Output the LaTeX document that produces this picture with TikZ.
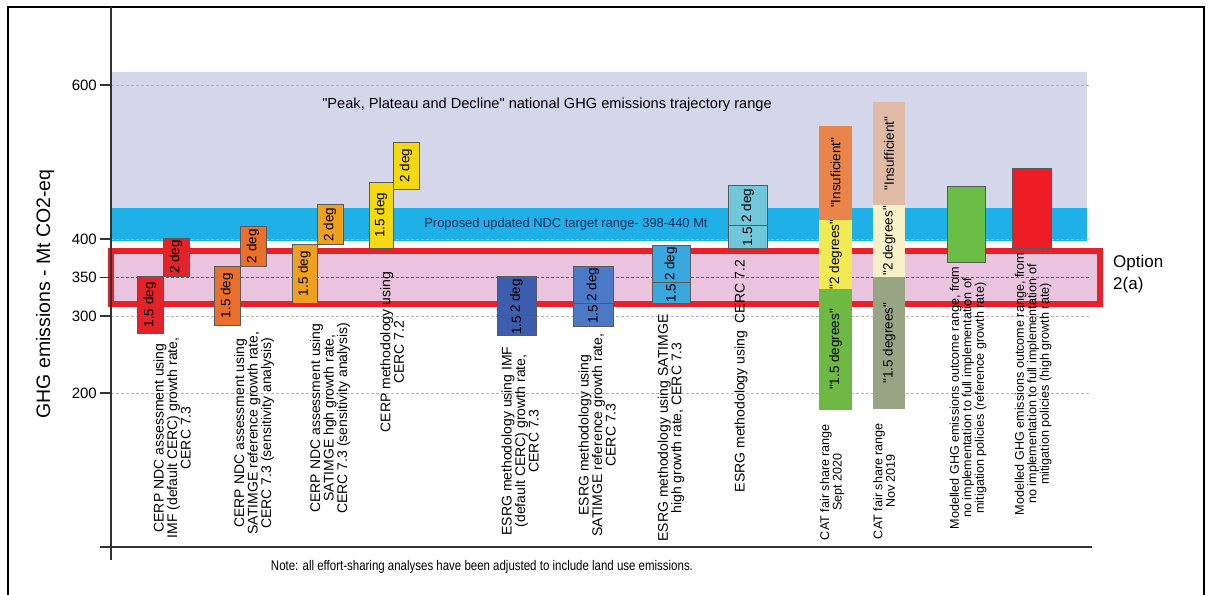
\documentclass[tikz,border=0pt]{standalone}
\usepackage{fontspec}
\setmainfont{Liberation Sans}[Ligatures=TeXOff]
\usetikzlibrary{positioning}
\definecolor{peakband}{HTML}{D4D6EA}
\definecolor{ndcband}{HTML}{1EB0E6}
\definecolor{optband}{HTML}{EAC4DE}
\definecolor{optline}{HTML}{E82128}
\definecolor{cerpred}{HTML}{E3232A}
\definecolor{cerporange}{HTML}{E8702B}
\definecolor{cerplight}{HTML}{F0A020}
\definecolor{cerpyellow}{HTML}{F4D812}
\definecolor{esrgdark}{HTML}{3D5DAE}
\definecolor{esrgmid}{HTML}{4B79C6}
\definecolor{esrglight}{HTML}{3BA7DF}
\definecolor{esrgcyan}{HTML}{72C8DB}
\definecolor{catinsufa}{HTML}{E9854B}
\definecolor{cattwoa}{HTML}{F2EA55}
\definecolor{catonea}{HTML}{6EB844}
\definecolor{catinsufb}{HTML}{DFBBA6}
\definecolor{cattwob}{HTML}{F6F1C6}
\definecolor{catoneb}{HTML}{97A585}
\definecolor{modgreen}{HTML}{6ABD45}
\definecolor{modred}{HTML}{EE1D25}
\definecolor{ndctext}{HTML}{1B2A5C}

\begin{document}
\begin{tikzpicture}[x=1pt, y=0.77pt,
	bar/.style={draw=black!65, line width=0.8pt},
	deg/.style={rotate=90, inner sep=0pt, text=black, font=\fontsize{13.5}{13.5}\selectfont},
	lbl/.style={rotate=90, align=center, inner sep=0pt, font=\fontsize{14}{13.5}\selectfont},
	small/.style={rotate=90, align=center, inner sep=0pt, font=\fontsize{12.6}{12.5}\selectfont},
	grid/.style={gray!60, dash pattern=on 3pt off 2pt, line width=0.8pt},
	tick/.style={left, inner sep=2pt, font=\fontsize{15}{15}\selectfont}]

\useasboundingbox (0,-61.04) rectangle (1210,710.39);
\draw[line width=1.6pt] (8,-80) -- (8,701.3) -- (1204,701.3) -- (1204,-80);

\fill[peakband] (111,440) rectangle (1087,617);
\fill[ndcband] (111,398) rectangle (1087,440);
\fill[optband] (111,316) rectangle (1100,384);

\foreach \v in {600,400,300,200}
	\draw[grid] (111,\v) -- (1090,\v);
\draw[grid, violet!45!gray] (111,350) -- (1090,350);

\draw[optline, line width=6pt] (111,316) rectangle (1100,384);

\draw[black!80, line width=1.3pt] (111,-17) -- (111,701.3);
\draw[black!80, line width=1.3pt] (100,0) -- (1092,0);
\foreach \v in {600,400,350,300,200} {
	\draw[black!80, line width=1.2pt] (100,\v) -- (111,\v);
	\node[tick] (t\v) at (99,\v) {\v};
}
\node[rotate=90, font=\fontsize{19.5}{20}\selectfont] (ytitle) at (45,328.6) {GHG emissions - Mt CO2-eq};

\node[font=\fontsize{14.6}{14.6}\selectfont] (peak) at (547,574) {"Peak, Plateau and Decline" national GHG emissions trajectory range};
\node[font=\fontsize{12.9}{12.9}\selectfont, text=ndctext] (ndc) at (566,419.5) {Proposed updated NDC target range- 398-440 Mt};
\node[right, align=left, inner sep=0pt, font=\fontsize{17}{22}\selectfont] (opt) at (1113,354.5) {Option\\2(a)};

\draw[bar, fill=cerpred] (137,277) rectangle (163,352) node[midway, deg] (ra) {1.5 deg};
\draw[bar, fill=cerpred] (163,352) rectangle (189,401) node[midway, deg] (rb) {2 deg};
\draw[bar, fill=cerporange] (214,288) rectangle (240,365) node[midway, deg] (oa) {1.5 deg};
\draw[bar, fill=cerporange] (240,365) rectangle (266,416) node[midway, deg] (ob) {2 deg};
\draw[bar, fill=cerplight] (292,317) rectangle (317,393) node[midway, deg] (la) {1.5 deg};
\draw[bar, fill=cerplight] (317,393) rectangle (343,445) node[midway, deg] (lb) {2 deg};
\draw[bar, fill=cerpyellow] (369,388) rectangle (393,474) node[midway, deg] (ya) {1.5 deg};
\draw[bar, fill=cerpyellow] (393,465) rectangle (419,525) node[midway, deg] (yb) {2 deg};

\draw[bar, fill=esrgdark] (497,275) rectangle (536,301) node[midway, deg] (da) {1.5};
\draw[bar, fill=esrgdark] (497,301) rectangle (536,351) node[midway, deg] (db) {2 deg};
\draw[bar, fill=esrgmid] (573,287) rectangle (613,317) node[midway, deg] (ma) {1.5};
\draw[bar, fill=esrgmid] (573,317) rectangle (613,364) node[midway, deg] (mb) {2 deg};
\draw[bar, fill=esrglight] (652,317) rectangle (690,343) node[midway, deg] (ha) {1.5};
\draw[bar, fill=esrglight] (652,343) rectangle (690,392) node[midway, deg] (hb) {2 deg};
\draw[bar, fill=esrgcyan] (728,388) rectangle (767,418) node[midway, deg] (ca) {1.5};
\draw[bar, fill=esrgcyan] (728,418) rectangle (767,469) node[midway, deg] (cb) {2 deg};

\fill[fill=catonea] (819,178) rectangle (852,335) node[midway, deg] (sa) {"1.5 degrees"};
\fill[fill=cattwoa] (819,335) rectangle (852,425) node[midway, deg] (sb) {"2 degrees"};
\fill[fill=catinsufa] (819,425) rectangle (852,547) node[midway, deg] (sc) {"Insuficient"};
\fill[fill=catoneb] (873,179) rectangle (905,351) node[midway, deg] (na) {"1.5 degrees"};
\fill[fill=cattwob] (873,351) rectangle (905,444) node[midway, deg] (nb) {"2 degrees"};
\fill[fill=catinsufb] (873,444) rectangle (905,578) node[midway, deg] (nc) {"Insufficient"};

\draw[bar, fill=modgreen] (947,370) rectangle (985,468);
\draw[bar, fill=modred] (1012,388) rectangle (1051,492);

\node[lbl] (cerp1) at (172,141.6) {CERP NDC assessment using\\IMF (default CERC) growth rate,\\CERC 7.3};
\node[lbl] (cerp2) at (254,148) {CERP NDC assessment using\\SATIMGE reference growth rate,\\CERC 7.3 (sensitivity analysis)};
\node[lbl] (cerp3) at (330,167.5) {CERP NDC assessment using\\SATIMGE hgh growth rate,\\CERC 7.3 (sensitivity analysis)};
\node[lbl] (cerp4) at (392,253) {CERP methodology using\\CERC 7.2};
\node[lbl] (esrg1) at (520,137.7) {ESRG methodology using IMF\\(default CERC) growth rate,\\CERC 7.3};
\node[lbl] (esrg2) at (597,145.5) {ESRG methodology using\\SATIMGE reference growth rate,\\CERC 7.3};
\node[lbl] (esrg3) at (671,154.5) {ESRG methodology using SATIMGE\\high growth rate, CERC 7.3};
\node[lbl] (esrg4) at (741,222) {ESRG methodology using\ \ CERC 7.2};
\node[small] (cat1) at (832,84.4) {CAT fair share range\\Sept 2020};
\node[small] (cat2) at (884,85.7) {CAT fair share range\\Nov 2019};
\node[small] (mod1) at (968,193.5) {Modelled GHG emissions outcome range, from\\no implementation to full implementation of\\mitigation policies (reference growth rate)};
\node[small] (mod2) at (1033,211.7) {Modelled GHG emissions outcome range, from\\no implementation to full implementation of\\mitigation policies (high growth rate)};

\node[font=\fontsize{14}{14}\selectfont] (note) at (482,-26) {\scalebox{0.82}[1]{Note: all effort-sharing analyses have been adjusted to include land use emissions.}};
\end{tikzpicture}
\end{document}
